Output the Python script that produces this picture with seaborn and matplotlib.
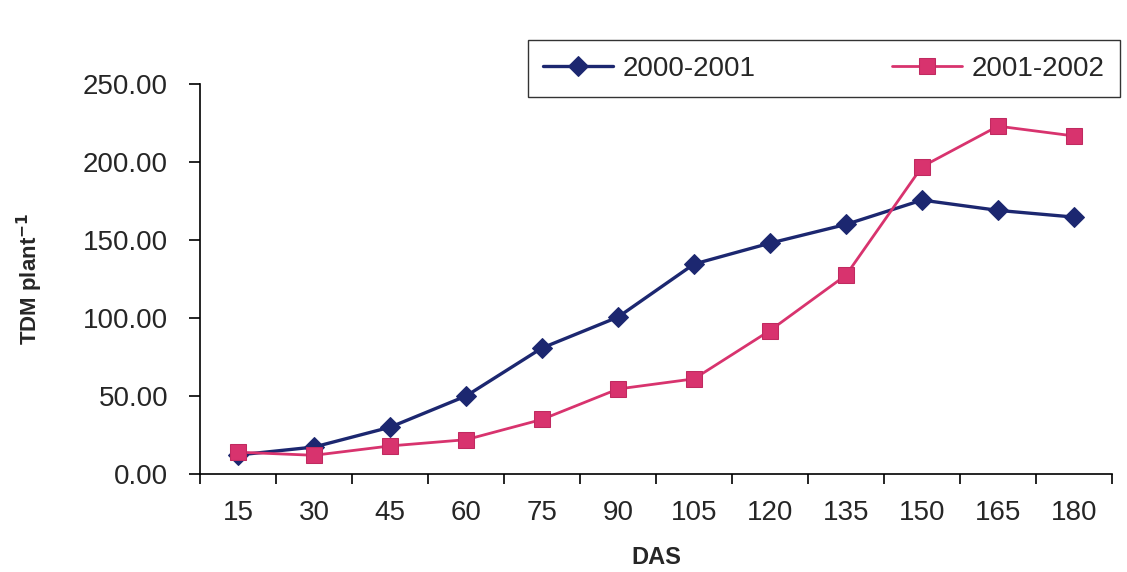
import matplotlib
matplotlib.use("Agg")
import matplotlib.pyplot as plt
import seaborn as sns
import pandas as pd
import numpy as np
from matplotlib.ticker import FixedLocator, NullFormatter, FixedFormatter

das = ["15", "30", "45", "60", "75", "90", "105", "120", "135", "150", "165", "180"]
s2000 = [12.2, 17.3, 30.0, 50.0, 80.8, 100.6, 134.6, 148.0, 160.0, 175.6, 169.0, 164.7]
s2001 = [14.0, 12.0, 18.0, 22.0, 35.0, 54.5, 61.0, 92.0, 127.5, 197.0, 223.0, 216.7]
labels = ["2000-2001", "2001-2002"]
yticks = [0, 50, 100, 150, 200, 250]

sns.set_theme(style="white")
plt.rcParams['font.family'] = ['Liberation Sans', 'DejaVu Sans']

fig = plt.figure(figsize=(11.27, 5.72), dpi=100)
ax = fig.add_axes([0.1775, 0.1713, 0.8092, 0.6818])

pos = np.arange(len(das))
df = pd.DataFrame({"x": np.concatenate([pos, pos]),
                   "y": s2000 + s2001,
                   "season": [labels[0]] * len(das) + [labels[1]] * len(das)})

sns.lineplot(data=df[df.season == labels[0]], x="x", y="y", ax=ax, color="#1c2770",
             marker="D", markersize=10, markeredgecolor="#1c2770", linewidth=2.4,
             label=labels[0], legend=False)
sns.lineplot(data=df[df.season == labels[1]], x="x", y="y", ax=ax, color="#d8336e",
             marker="s", markersize=12, markeredgecolor="#c02a60", linewidth=2.0,
             label=labels[1], legend=False)

ax.set_xlim(-0.5, len(das) - 0.5)
ax.set_ylim(0, 250)
ax.set_yticks(yticks)
ax.set_yticklabels([f"{v:.2f}" for v in yticks], fontsize=20)

ax.xaxis.set_major_locator(FixedLocator(np.arange(-0.5, len(das), 1.0)))
ax.xaxis.set_major_formatter(NullFormatter())
ax.xaxis.set_minor_locator(FixedLocator(pos))
ax.xaxis.set_minor_formatter(FixedFormatter(das))
ax.tick_params(axis="x", which="major", direction="out", length=7, width=1.2, color="black", bottom=True)
ax.tick_params(axis="x", which="minor", length=0, labelsize=20, pad=19, bottom=True)
ax.tick_params(axis="y", direction="out", length=8, width=1.2, color="black", left=True, pad=15)

for s in ["top", "right"]:
    ax.spines[s].set_visible(False)
for s in ["left", "bottom"]:
    ax.spines[s].set_color("black")
    ax.spines[s].set_linewidth(1.2)

ax.set_xlabel("DAS", fontsize=17, fontweight="bold")
ax.xaxis.set_label_coords(0.5, -0.185)
ax.set_ylabel("TDM plant$^{\\mathbf{-1}}$", fontsize=16, fontweight="bold")
ax.yaxis.set_label_coords(-0.17, 0.5)

handles, labs = ax.get_legend_handles_labels()
leg = fig.legend(handles, labs, loc="lower left",
                 bbox_to_anchor=(0.4685, 0.8304, 0.525, 0.0997), mode="expand",
                 ncol=2, fontsize=20, frameon=True, fancybox=False, edgecolor="black",
                 handlelength=2.5, handletextpad=0.35, borderaxespad=0, borderpad=0.55)
leg.get_frame().set_linewidth(1.0)

fig.savefig("out.png", dpi=100, facecolor="white")
